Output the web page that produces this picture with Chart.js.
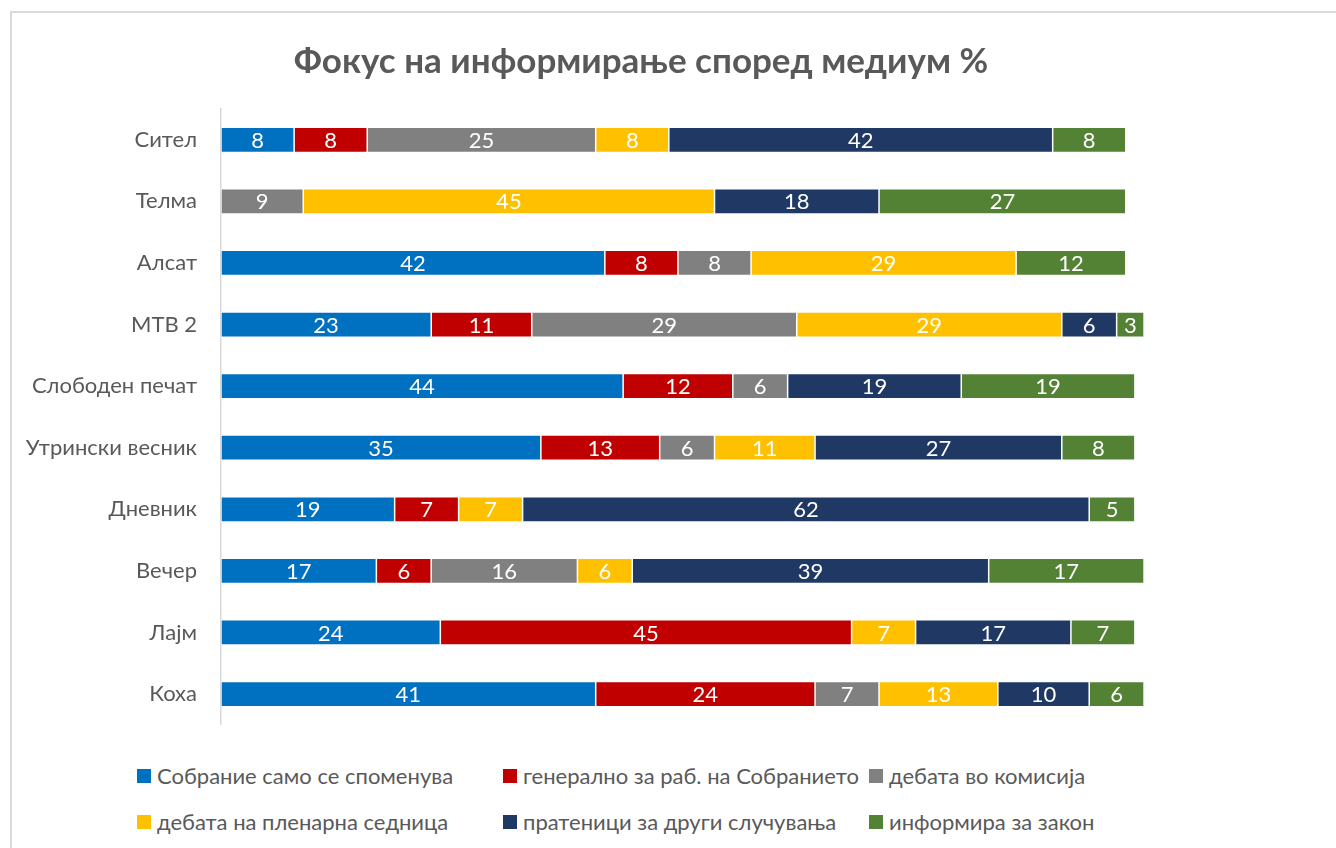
<!DOCTYPE html>
<html>
<head>
<meta charset="utf-8">
<title>Фокус на информирање според медиум %</title>
<script src="https://cdn.jsdelivr.net/npm/chart.js@4/dist/chart.umd.min.js"></script>
<style>
    html, body { margin: 0; padding: 0; background: #fff; width: 1336px; height: 848px; overflow: hidden; }
    .frame {
        position: absolute; left: 10px; top: 11px; width: 1340px; height: 860px;
        border: 2px solid #d9d9d9; box-sizing: border-box;
    }
    #focusChart { position: absolute; left: 10px; top: 11px; }
    .legend-item {
        position: absolute; font-family: Lato, "Open Sans", sans-serif; font-size: 22px;
        color: #595959; white-space: nowrap; line-height: 24px;
    }
    .legend-item span {
        display: inline-block; width: 14px; height: 14px; margin-right: 6px; vertical-align: 1px;
    }
</style>
</head>
<body>
<div class="frame"></div>
<canvas id="focusChart" width="1262" height="751"></canvas>
<div id="legend"></div>
<script>
    // media outlets, top to bottom
    const media = ["Сител", "Телма", "Алсат", "МТВ 2", "Слободен печат", "Утрински весник", "Дневник", "Вечер", "Лајм", "Коха"];

    const seriesNames = [
        "Собрание само се споменува",
        "генерално за раб. на Собранието",
        "дебата во комисија",
        "дебата на пленарна седница",
        "пратеници за други случувања",
        "информира за закон",
    ];
    const seriesColors = ["#0070C0", "#C00000", "#808080", "#FFC000", "#203864", "#548235"];

    // values in %, null = no segment
    const samoSpomenuva = [8, null, 42, 23, 44, 35, 19, 17, 24, 41];
    const generalno = [8, null, 8, 11, 12, 13, 7, 6, 45, 24];
    const komisija = [25, 9, 8, 29, 6, 6, null, 16, null, 7];
    const plenarna = [8, 45, 29, 29, null, 11, 7, 6, 7, 13];
    const drugiSluchuvanja = [42, 18, null, 6, 19, 27, 62, 39, 17, 10];
    const zaZakon = [8, 27, 12, 3, 19, 8, 5, 17, 7, 6];

    const seriesValues = [samoSpomenuva, generalno, komisija, plenarna, drugiSluchuvanja, zaZakon];

    // white numbers in the middle of each segment
    const barLabels = {
        id: "barLabels",
        afterDatasetsDraw(chart) {
            const { ctx } = chart;
            ctx.save();
            ctx.font = "22px Lato, 'Open Sans', sans-serif";
            ctx.fillStyle = "#ffffff";
            ctx.textAlign = "center";
            ctx.textBaseline = "middle";
            chart.data.datasets.forEach((ds, i) => {
                chart.getDatasetMeta(i).data.forEach((bar, j) => {
                    const v = ds.data[j];
                    if (v == null) return;
                    ctx.fillText(String(v), (bar.x + bar.base) / 2, bar.y + 1);
                });
            });
            ctx.restore();
        },
    };

    const ctx = document.getElementById("focusChart").getContext("2d");
    new Chart(ctx, {
        type: "bar",
        data: {
            labels: media,
            datasets: seriesNames.map((name, i) => ({
                label: name,
                data: seriesValues[i],
                backgroundColor: seriesColors[i],
                borderColor: "rgba(255,255,255,0.55)",
                borderWidth: 0.75,
                borderSkipped: false,
                categoryPercentage: 1,
                barPercentage: 0.41,
            })),
        },
        options: {
            indexAxis: "y",
            responsive: false,
            animation: false,
            layout: { padding: { left: 0, right: 0, top: 0, bottom: 6 } },
            scales: {
                x: {
                    stacked: true,
                    min: 0,
                    max: 115,
                    display: false,
                },
                y: {
                    stacked: true,
                    grid: { display: false, drawTicks: false },
                    border: { display: true, color: "#d9d9d9", width: 1.5 },
                    ticks: {
                        padding: 24,
                        color: "#595959",
                        font: { family: "Lato, 'Open Sans', sans-serif", size: 22 },
                    },
                    afterFit(scale) {
                        scale.width = 211;
                    },
                },
            },
            plugins: {
                legend: { display: false },
                tooltip: { enabled: false },
                title: {
                    display: true,
                    text: "Фокус на информирање според медиум %",
                    color: "#595959",
                    font: { family: "Lato, 'Open Sans', sans-serif", size: 35, weight: "bold", lineHeight: 1.2 },
                    padding: { top: 30, bottom: 26 },
                },
            },
        },
        plugins: [barLabels],
    });

    // legend laid out in columns, like the original
    const legendCols = [137, 503, 869];
    const legendRows = [764, 810];
    const legendEl = document.getElementById("legend");
    seriesNames.forEach((name, i) => {
        const item = document.createElement("div");
        item.className = "legend-item";
        item.style.left = legendCols[i % 3] + "px";
        item.style.top = legendRows[Math.floor(i / 3)] + "px";
        item.innerHTML = '<span style="background:' + seriesColors[i] + '"></span>' + name;
        legendEl.appendChild(item);
    });
</script>
</body>
</html>
